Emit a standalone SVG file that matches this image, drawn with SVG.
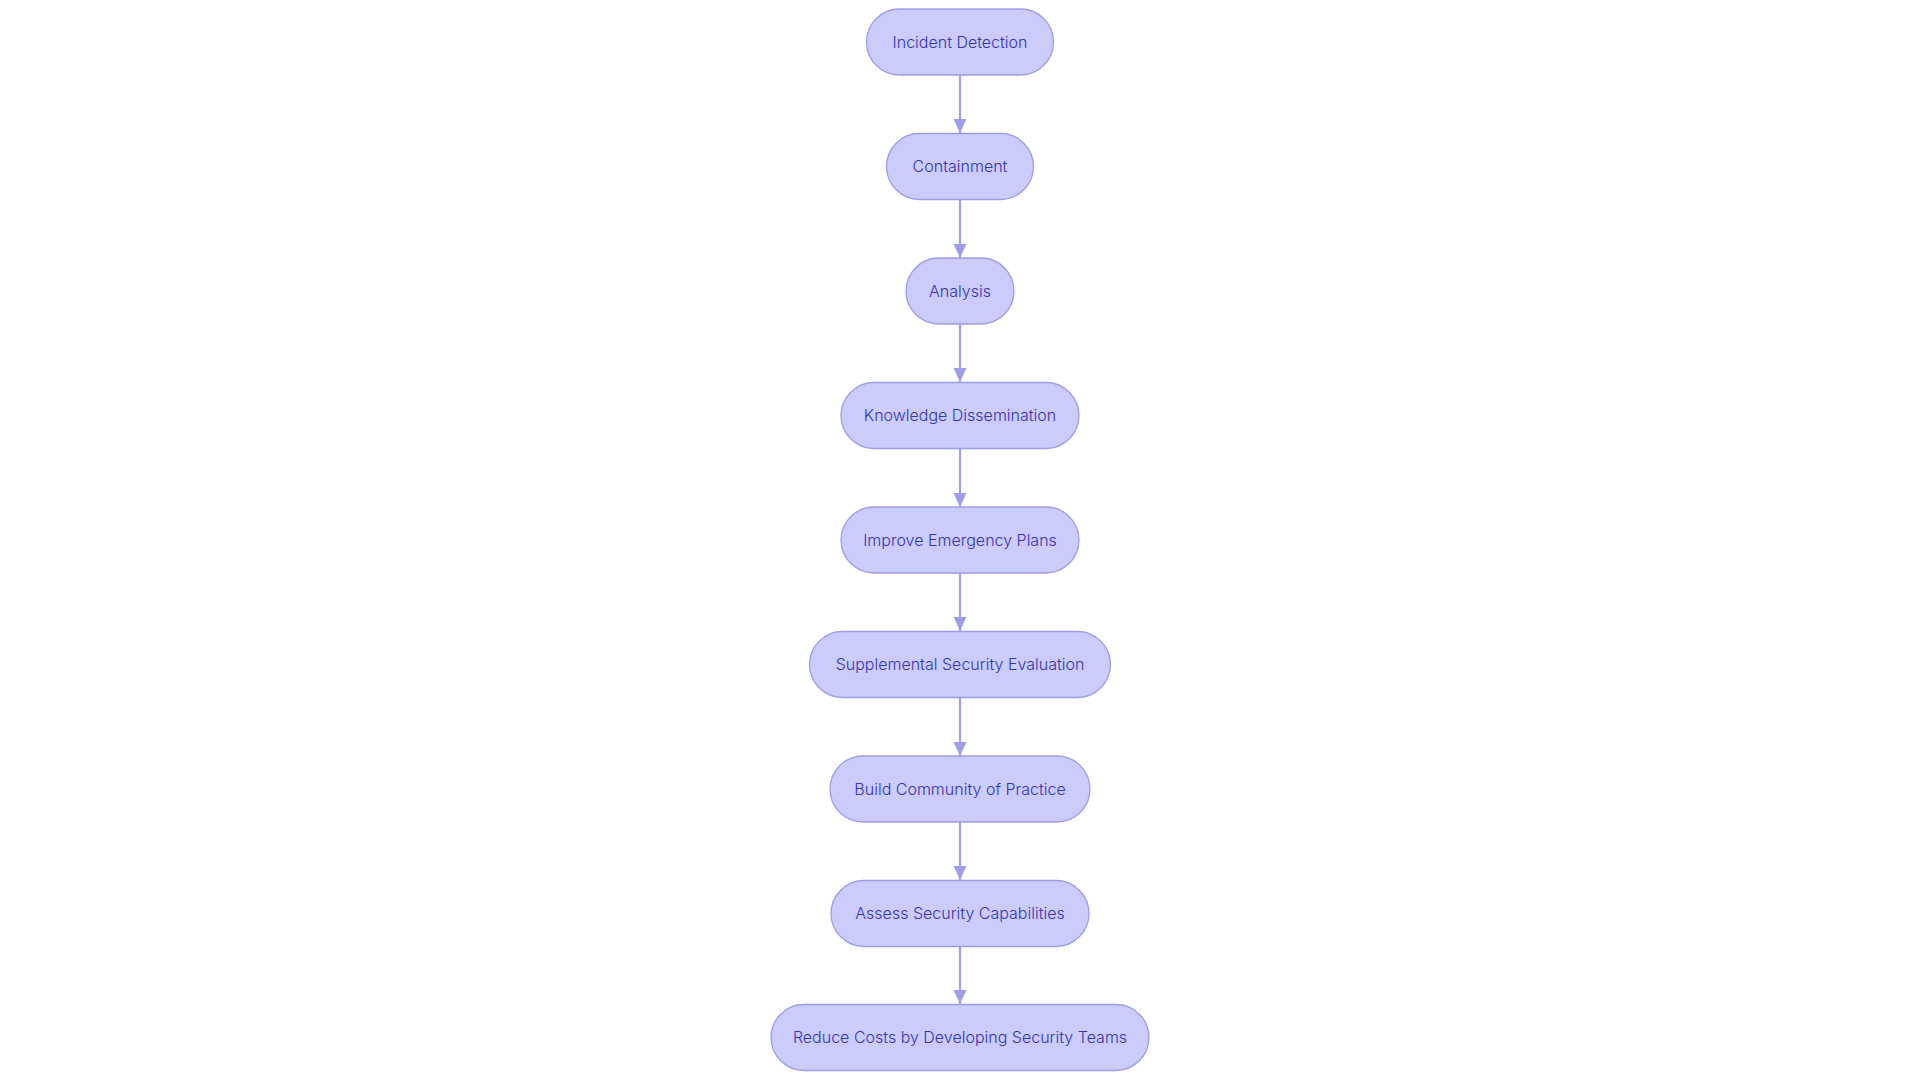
<svg xmlns="http://www.w3.org/2000/svg" width="1920" height="1080" viewBox="0 0 1920 1080">
<style>
.node rect{fill:#cbcbfc;stroke:#9d9de6;stroke-width:1.3}
.node text{font-family:Inter,"Noto Sans",sans-serif;font-size:16px;font-weight:300;fill:#3535b0;text-anchor:middle}
.edge{stroke:#9d9fe6;stroke-width:2.2;fill:none}
</style>
<defs>
<marker id="arr" viewBox="0 0 14 14" refX="14" refY="7" markerWidth="14" markerHeight="14" markerUnits="userSpaceOnUse" orient="auto">
<path d="M0,0.5 L14,7 L0,13.5 Z" fill="#9d9fe6"/>
</marker>
</defs>
<g id="connectors">
<line class="edge" x1="960" y1="75" x2="960" y2="133" marker-end="url(#arr)"/>
<line class="edge" x1="960" y1="200" x2="960" y2="258" marker-end="url(#arr)"/>
<line class="edge" x1="960" y1="324" x2="960" y2="382" marker-end="url(#arr)"/>
<line class="edge" x1="960" y1="449" x2="960" y2="507" marker-end="url(#arr)"/>
<line class="edge" x1="960" y1="573" x2="960" y2="631" marker-end="url(#arr)"/>
<line class="edge" x1="960" y1="698" x2="960" y2="756" marker-end="url(#arr)"/>
<line class="edge" x1="960" y1="822" x2="960" y2="880" marker-end="url(#arr)"/>
<line class="edge" x1="960" y1="946" x2="960" y2="1004" marker-end="url(#arr)"/>
</g>
<g id="n1" class="node"><rect x="866.5" y="9" width="187" height="66" rx="33"/><text x="960" y="47.5">Incident Detection</text></g>
<g id="n2" class="node"><rect x="886.5" y="133.5" width="147" height="66" rx="33"/><text x="960" y="172">Containment</text></g>
<g id="n3" class="node"><rect x="906" y="258" width="108" height="66" rx="33"/><text x="960" y="296.5">Analysis</text></g>
<g id="n4" class="node"><rect x="841" y="382.5" width="238" height="66" rx="33"/><text x="960" y="421">Knowledge Dissemination</text></g>
<g id="n5" class="node"><rect x="841" y="507" width="238" height="66" rx="33"/><text x="960" y="545.5">Improve Emergency Plans</text></g>
<g id="n6" class="node"><rect x="809.5" y="631.5" width="301" height="66" rx="33"/><text x="960" y="670">Supplemental Security Evaluation</text></g>
<g id="n7" class="node"><rect x="830" y="756" width="260" height="66" rx="33"/><text x="960" y="794.5">Build Community of Practice</text></g>
<g id="n8" class="node"><rect x="831" y="880.5" width="258" height="66" rx="33"/><text x="960" y="919">Assess Security Capabilities</text></g>
<g id="n9" class="node"><rect x="771" y="1004.5" width="378" height="66" rx="33"/><text x="960" y="1043">Reduce Costs by Developing Security Teams</text></g>
</svg>
